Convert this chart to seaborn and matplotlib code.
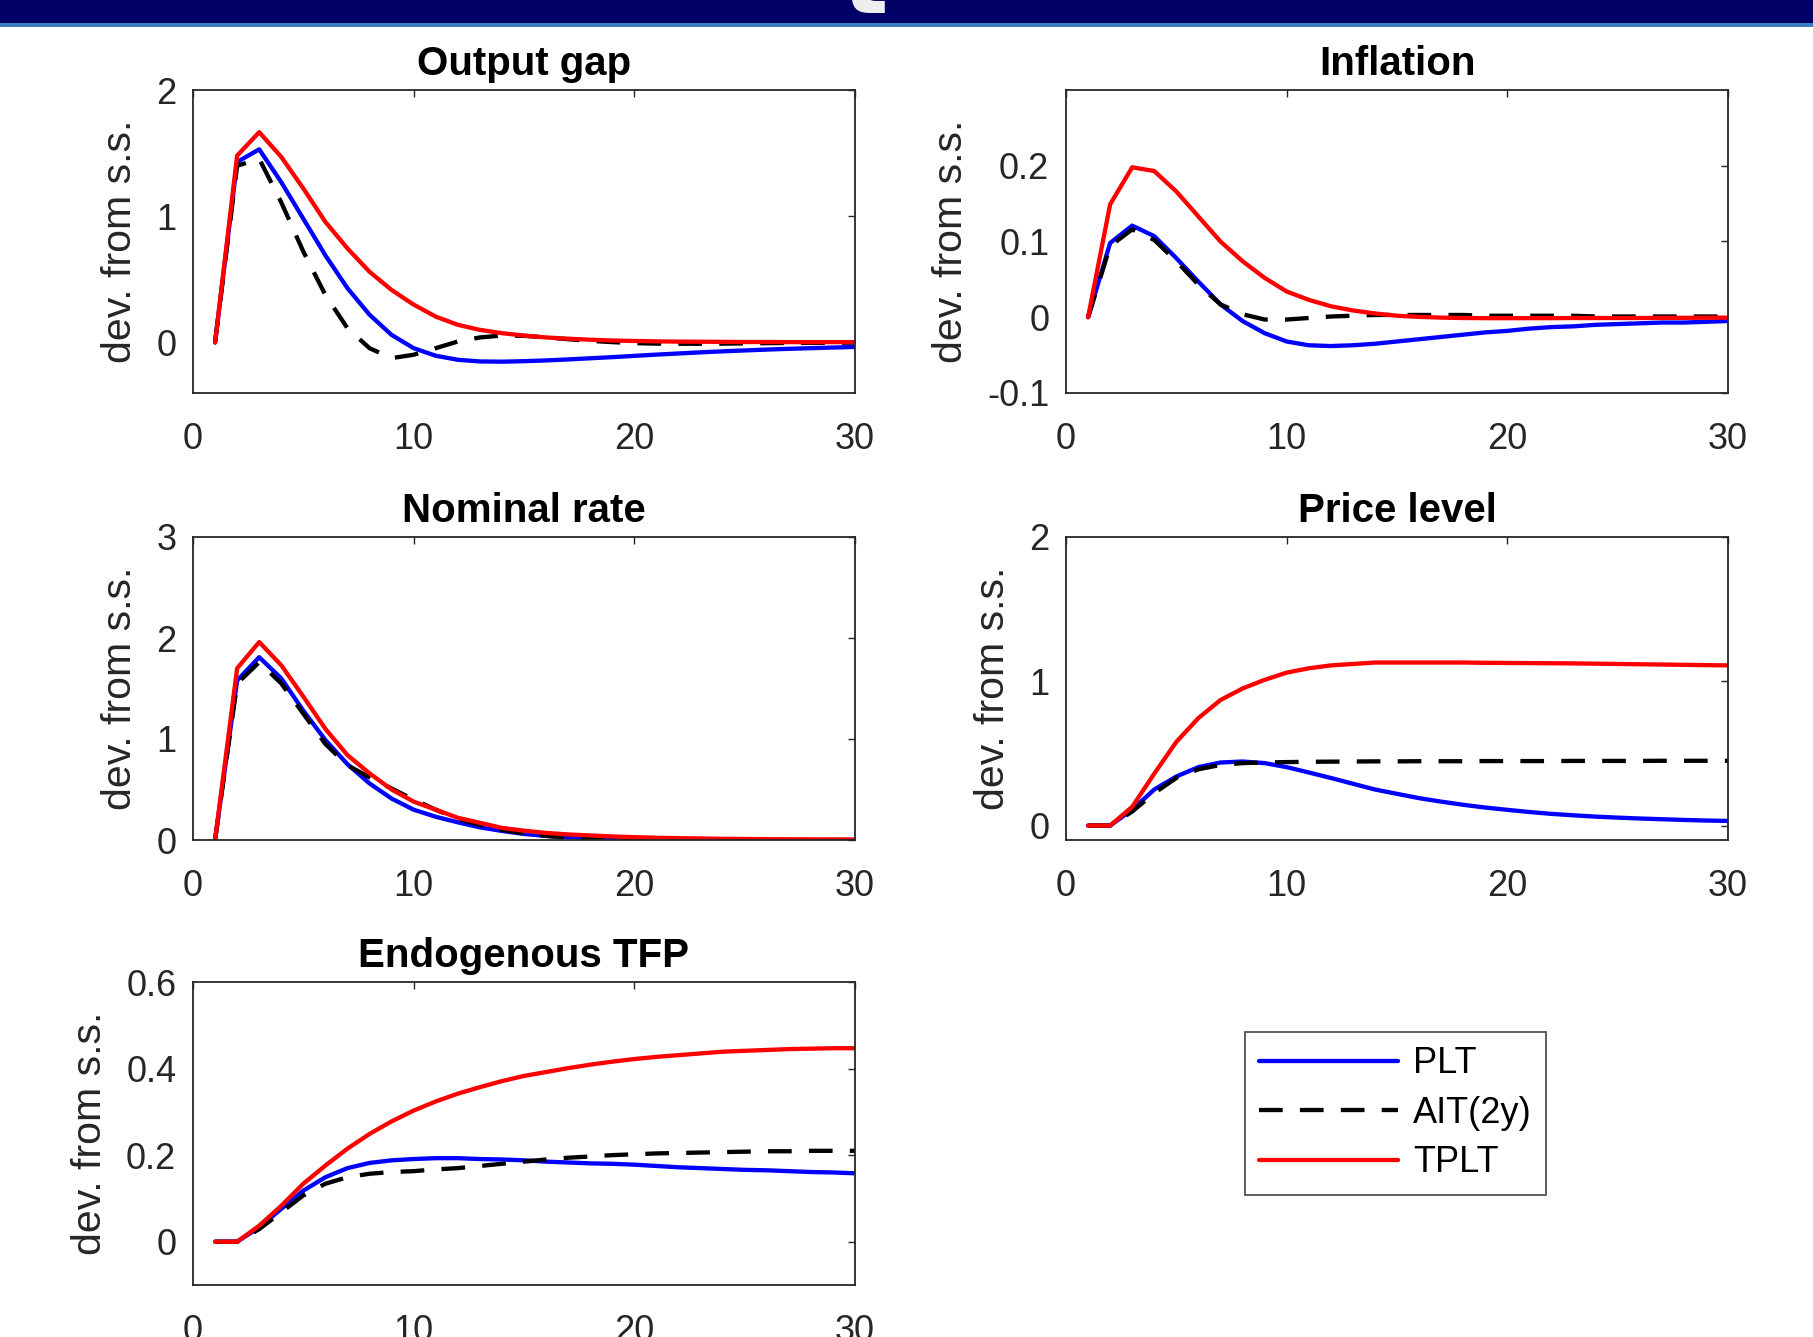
import numpy as np
import pandas as pd
import matplotlib
matplotlib.use("Agg")
import matplotlib.pyplot as plt
from matplotlib.patches import Rectangle
from matplotlib.ticker import FixedLocator, FixedFormatter
import seaborn as sns

# ---------------- data ----------------
periods = list(range(1, 31))
series_names = ["PLT", "AIT(2y)", "TPLT"]

output_gap_plt = [0, 1.43, 1.53, 1.27, 0.98, 0.69, 0.43, 0.22, 0.06, -0.045, -0.105, -0.137, -0.150, -0.152,
                  -0.148, -0.142, -0.134, -0.125, -0.116, -0.106, -0.096, -0.087, -0.078, -0.070, -0.063,
                  -0.056, -0.050, -0.045, -0.040, -0.035]
output_gap_ait = [0, 1.40, 1.455, 1.11, 0.72, 0.376, 0.113, -0.045, -0.124, -0.097, -0.045, 0.008, 0.040, 0.055,
                  0.053, 0.040, 0.026, 0.013, 0.003, -0.005, -0.009, -0.010, -0.010, -0.009, -0.007, -0.005,
                  -0.004, -0.003, -0.002, -0.001]
output_gap_tplt = [0, 1.48, 1.666, 1.47, 1.22, 0.955, 0.745, 0.56, 0.416, 0.30, 0.205, 0.14, 0.10, 0.074, 0.055,
                   0.040, 0.030, 0.022, 0.016, 0.012, 0.009, 0.007, 0.006, 0.005, 0.004, 0.004, 0.003, 0.003,
                   0.003, 0.003]

inflation_plt = [0, 0.098, 0.121, 0.107, 0.078, 0.047, 0.017, -0.005, -0.021, -0.032, -0.037, -0.038, -0.037,
                 -0.035, -0.032, -0.029, -0.026, -0.023, -0.020, -0.018, -0.015, -0.013, -0.012, -0.010, -0.009,
                 -0.008, -0.007, -0.007, -0.006, -0.005]
inflation_ait = [0, 0.094, 0.116, 0.102, 0.074, 0.043, 0.017, 0.004, -0.003, -0.003, -0.001, 0.001, 0.002, 0.003,
                 0.003, 0.003, 0.003, 0.003, 0.002, 0.002, 0.002, 0.002, 0.002, 0.001, 0.001, 0.001, 0.001, 0.001,
                 0.001, 0.001]
inflation_tplt = [0, 0.149, 0.198, 0.193, 0.166, 0.133, 0.100, 0.074, 0.052, 0.034, 0.023, 0.0145, 0.009, 0.005,
                  0.002, 0.0005, -0.0005, -0.001, -0.0012, -0.0012, -0.0012, -0.0012, -0.001, -0.001, -0.001,
                  -0.001, -0.0008, -0.0008, -0.0006, -0.0005]

nominal_plt = [0, 1.58, 1.81, 1.60, 1.28, 0.99, 0.75, 0.56, 0.41, 0.30, 0.23, 0.175, 0.125, 0.09, 0.06, 0.04,
               0.03, 0.02, 0.014, 0.010, 0.007, 0.005, 0.003, 0.002, 0.001, 0.001, 0.0, 0.0, 0.0, 0.0]
nominal_ait = [0, 1.55, 1.76, 1.55, 1.25, 0.95, 0.74, 0.62, 0.51, 0.40, 0.30, 0.21, 0.15, 0.10, 0.065, 0.04,
               0.025, 0.015, 0.009, 0.005, 0.003, 0.002, 0.001, 0.0, 0.0, 0.0, 0.0, 0.0, 0.0, 0.0]
nominal_tplt = [0, 1.70, 1.96, 1.73, 1.42, 1.10, 0.84, 0.66, 0.50, 0.38, 0.30, 0.22, 0.17, 0.12, 0.092, 0.07,
                0.055, 0.045, 0.035, 0.028, 0.022, 0.018, 0.015, 0.012, 0.010, 0.008, 0.007, 0.006, 0.005, 0.004]

price_plt = [0, 0, 0.11, 0.25, 0.34, 0.405, 0.437, 0.444, 0.433, 0.405, 0.368, 0.33, 0.29, 0.25, 0.22, 0.19,
             0.166, 0.144, 0.125, 0.109, 0.094, 0.081, 0.071, 0.062, 0.055, 0.049, 0.044, 0.039, 0.035, 0.032]
price_ait = [0, 0, 0.097, 0.225, 0.33, 0.39, 0.42, 0.433, 0.437, 0.44, 0.442, 0.443, 0.444, 0.445, 0.445, 0.446,
             0.446, 0.446, 0.447, 0.447, 0.447, 0.447, 0.448, 0.448, 0.448, 0.448, 0.449, 0.449, 0.449, 0.449]
price_tplt = [0, 0, 0.13, 0.36, 0.58, 0.745, 0.87, 0.95, 1.01, 1.06, 1.09, 1.11, 1.12, 1.13, 1.13, 1.13, 1.13,
              1.13, 1.128, 1.127, 1.126, 1.125, 1.124, 1.122, 1.12, 1.118, 1.116, 1.114, 1.112, 1.11]

tfp_plt = [0, 0, 0.033, 0.076, 0.118, 0.149, 0.17, 0.182, 0.188, 0.191, 0.193, 0.193, 0.191, 0.190, 0.188, 0.185,
           0.183, 0.181, 0.180, 0.178, 0.175, 0.172, 0.170, 0.168, 0.166, 0.165, 0.163, 0.161, 0.160, 0.158]
tfp_ait = [0, 0, 0.029, 0.068, 0.107, 0.134, 0.149, 0.157, 0.161, 0.163, 0.167, 0.170, 0.175, 0.180, 0.185, 0.190,
           0.194, 0.197, 0.200, 0.202, 0.204, 0.205, 0.206, 0.207, 0.208, 0.209, 0.209, 0.210, 0.210, 0.210]
tfp_tplt = [0, 0, 0.037, 0.083, 0.134, 0.176, 0.215, 0.249, 0.278, 0.303, 0.324, 0.342, 0.357, 0.371, 0.383,
            0.392, 0.401, 0.409, 0.416, 0.422, 0.427, 0.431, 0.435, 0.439, 0.441, 0.443, 0.445, 0.446, 0.447, 0.447]

panel_titles = ["Output gap", "Inflation", "Nominal rate", "Price level", "Endogenous TFP"]
y_label = "dev. from s.s."
x_ticks = [0, 10, 20, 30]
x_tick_labels = ["0", "10", "20", "30"]
y_ticks = [[0, 1, 2], [-0.1, 0, 0.1, 0.2], [0, 1, 2, 3], [0, 1, 2], [0, 0.2, 0.4, 0.6]]
y_tick_labels = [["0", "1", "2"], ["-0.1", "0", "0.1", "0.2"], ["0", "1", "2", "3"], ["0", "1", "2"],
                 ["0", "0.2", "0.4", "0.6"]]
y_limits = [(-0.4, 2), (-0.1, 0.3), (0, 3), (-0.1, 2), (-0.1, 0.6)]

panel_data = [
    (output_gap_plt, output_gap_ait, output_gap_tplt),
    (inflation_plt, inflation_ait, inflation_tplt),
    (nominal_plt, nominal_ait, nominal_tplt),
    (price_plt, price_ait, price_tplt),
    (tfp_plt, tfp_ait, tfp_tplt),
]

# ---------------- style ----------------
sns.set_theme(style="white")
plt.rcParams["font.family"] = ["Liberation Sans", "DejaVu Sans"]

W, H = 1813, 1337
fig = plt.figure(figsize=(W / 100, H / 100), dpi=100)
fig.patch.set_facecolor("white")

# banner
fig.patches.append(Rectangle((0, 1 - 23 / H), 1, 23 / H, transform=fig.transFigure,
                             facecolor="#000066", edgecolor="none", zorder=0))
fig.patches.append(Rectangle((0, 1 - 27 / H), 1, 4 / H, transform=fig.transFigure,
                             facecolor="#3a7fc0", edgecolor="none", zorder=0))
fig.text(842 / W, 1 - 13 / H, "t", color="#eeeeee", fontsize=70, fontweight="bold",
         family="DejaVu Sans", ha="left", va="baseline", zorder=5)

# axes positions in pixels: left, top
aw, ah = 662, 303
positions = [(193, 90), (1066, 90), (193, 537), (1066, 537), (193, 982)]

colors = ["#0000ff", "#000000", "#ff0000"]
styles = ["-", (0, (5.5, 4)), "-"]
dark = "#262626"

handles = None
for i, (title, data) in enumerate(zip(panel_titles, panel_data)):
    l, t = positions[i]
    ax = fig.add_axes([l / W, 1 - (t + ah) / H, aw / W, ah / H])
    df = pd.DataFrame({"t": periods * 3,
                       "value": list(data[0]) + list(data[1]) + list(data[2]),
                       "series": [s for s in series_names for _ in periods]})
    for name, c, ls in zip(series_names, colors, styles):
        sub = df[df["series"] == name]
        sns.lineplot(data=sub, x="t", y="value", color=c, linestyle=ls, linewidth=3.1,
                     ax=ax, label=name, legend=False)
    if ax.get_legend() is not None:
        ax.get_legend().remove()
    ax.set_xlim(0, 30)
    ax.set_ylim(*y_limits[i])
    ax.xaxis.set_major_locator(FixedLocator(x_ticks))
    ax.xaxis.set_major_formatter(FixedFormatter(x_tick_labels))
    ax.yaxis.set_major_locator(FixedLocator(y_ticks[i]))
    ax.yaxis.set_major_formatter(FixedFormatter(y_tick_labels[i]))
    ax.tick_params(axis="both", direction="in", length=5, width=1.0, color=dark,
                   top=True, right=True, labelsize=26, labelcolor=dark)
    ax.tick_params(axis="x", pad=21)
    ax.tick_params(axis="y", pad=12)
    for sp in ax.spines.values():
        sp.set_visible(True)
        sp.set_color(dark)
        sp.set_linewidth(1.3)
    ax.set_xlabel("")
    ax.set_ylabel(y_label, fontsize=29.5, color=dark, labelpad=12)
    ax.set_title(title, fontsize=29, fontweight="bold", color="black", pad=11)
    ax.set_facecolor("white")
    if handles is None:
        handles = ax.get_lines()[:3]

leg = fig.legend(handles, series_names, loc="upper left",
                 bbox_to_anchor=(1245 / W, 1 - 1032 / H), bbox_transform=fig.transFigure,
                 fontsize=26, frameon=True, fancybox=False, edgecolor=dark,
                 handlelength=3.85, handletextpad=0.4, labelspacing=0.4,
                 borderpad=0.4, borderaxespad=0.0)
leg.get_frame().set_linewidth(1.3)
for txt in leg.get_texts():
    txt.set_color("black")

fig.savefig("out.png", dpi=100, facecolor="white")
